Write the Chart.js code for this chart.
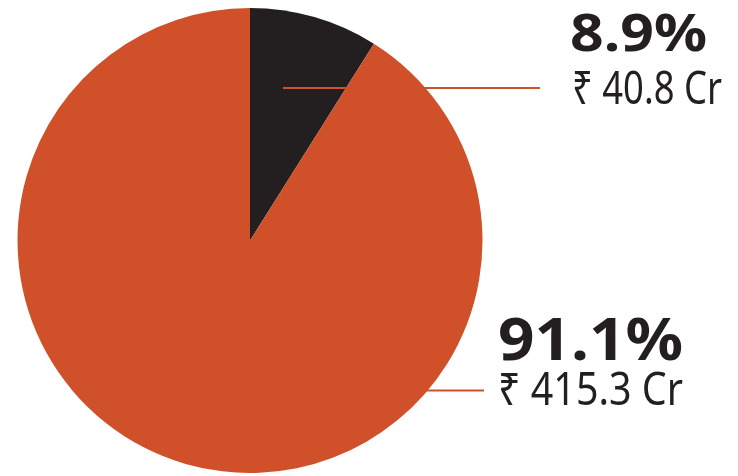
<!DOCTYPE html>
<html>
<head>
<meta charset="utf-8">
<script src="https://cdn.jsdelivr.net/npm/chart.js@4/dist/chart.umd.min.js"></script>
<style>
html,body{margin:0;padding:0;background:#fff;}
#wrap{width:738px;height:476px;position:relative;}
</style>
</head>
<body>
<div id="wrap"><canvas id="c" width="738" height="476"></canvas></div>
<script>
const categories = ['Other', 'Main'];
const values = [40.8, 415.3];
const percentLabels = ['8.9%', '91.1%'];
const amountLabels = ['₹ 40.8 Cr', '₹ 415.3 Cr'];
const colors = ['#231F20', '#D0502A'];

const DARK = '#231F20';
const ORANGE = '#D0502A';

function drawFit(ctx, text, x, y, font, targetW) {
  ctx.save();
  ctx.font = font;
  const w = ctx.measureText(text).width;
  const sx = targetW ? targetW / w : 1;
  ctx.translate(x, y);
  ctx.scale(sx, 1);
  ctx.fillText(text, 0, 0);
  ctx.restore();
}

const labelPlugin = {
  id: 'pieLabels',
  afterDraw(chart) {
    const ctx = chart.ctx;
    const arcs = chart.getDatasetMeta(0).data;
    const a0 = arcs[0];
    const cx = a0.x, cy = a0.y, r = a0.outerRadius;
    ctx.save();
    ctx.strokeStyle = ORANGE;
    ctx.lineWidth = 2;
    // leader line 1
    const y1 = cy - 0.656 * r;
    ctx.beginPath();
    ctx.moveTo(cx + 0.142 * r, y1);
    ctx.lineTo(540, y1);
    ctx.stroke();
    // leader line 2
    const y2 = cy + 0.645 * r;
    ctx.beginPath();
    ctx.moveTo(cx + 0.7 * r, y2);
    ctx.lineTo(484, y2);
    ctx.stroke();

    ctx.fillStyle = DARK;
    ctx.textBaseline = 'alphabetic';
    ctx.textAlign = 'left';
    drawFit(ctx, percentLabels[0], 570, 51, '700 52px "Noto Sans", "DejaVu Sans", sans-serif', 137);
    drawFit(ctx, amountLabels[0], 572, 104, '400 46px "Noto Sans", "DejaVu Sans", sans-serif', 150);
    drawFit(ctx, percentLabels[1], 498, 360, '700 60px "Noto Sans", "DejaVu Sans", sans-serif', 185);
    drawFit(ctx, amountLabels[1], 498, 405, '400 45px "Noto Sans", "DejaVu Sans", sans-serif', 185);
    ctx.restore();
  }
};

new Chart(document.getElementById('c'), {
  type: 'pie',
  data: {
    labels: categories,
    datasets: [{
      data: values,
      backgroundColor: colors,
      borderWidth: 0,
      hoverOffset: 0
    }]
  },
  options: {
    responsive: false,
    animation: false,
    devicePixelRatio: 1,
    layout: { padding: { left: 17, right: 255, top: 8, bottom: 3 } },
    plugins: {
      legend: { display: false },
      tooltip: { enabled: false }
    }
  },
  plugins: [labelPlugin]
});
</script>
</body>
</html>
